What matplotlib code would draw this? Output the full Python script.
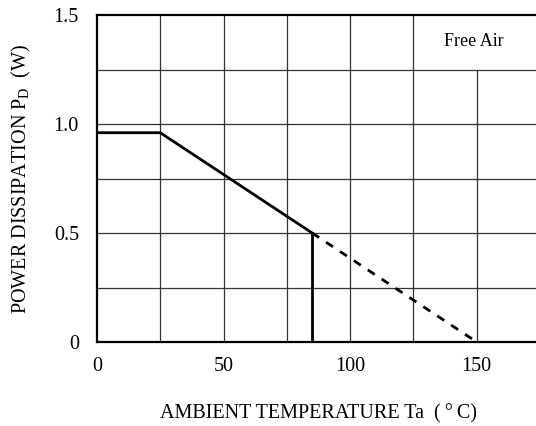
import numpy as np
import matplotlib
matplotlib.use("Agg")
import matplotlib.pyplot as plt

plt.rcParams["font.family"] = ["Liberation Serif", "DejaVu Serif"]
plt.rcParams["mathtext.default"] = "regular"

# derating curve (Ta in degC, Pd in W)
ta_solid = [0, 25, 85]
pd_solid = [0.96, 0.96, 0.5]
ta_cut = [85, 85]
pd_cut = [0.5, 0.0]
ta_dash = [85, 150]
pd_dash = [0.5, 0.0]

xticks = [0, 50, 100, 150]
yticks = [0, 0.5, 1.0, 1.5]
yticklabels = ["0", "0.5", "1.0", "1.5"]

fig = plt.figure(figsize=(5.36, 4.26), dpi=100)
ax = fig.add_axes([97 / 536, 84 / 426, 443 / 536, 327 / 426])
ax.set_xlim(0, 175)
ax.set_ylim(0, 1.5)

# grid, 25 degC x 0.25 W; the 150 line stops under the "Free Air" cell
for gx in np.arange(25, 175, 25):
    top = 1.25 / 1.5 if gx == 150 else 1.0
    ax.axvline(gx, ymax=top, color="#333333", lw=0.9, zorder=1)
for gy in np.arange(0.25, 1.5, 0.25):
    ax.axhline(gy, color="#333333", lw=0.9, zorder=1)

ax.plot(ta_solid, pd_solid, color="black", lw=2.0, zorder=3)
ax.plot(ta_cut, pd_cut, color="black", lw=2.0, zorder=3)
ax.plot(ta_dash, pd_dash, color="black", lw=2.0, ls=(0, (3, 3)), zorder=3)

ax.text(149, 1.38, "Free Air", ha="center", va="center", fontsize=13)

ax.set_xticks(xticks)
ax.set_yticks(yticks)
ax.set_yticklabels(yticklabels)
ax.tick_params(length=0, labelsize=14.5)
ax.tick_params(axis="x", pad=11)
ax.tick_params(axis="y", pad=13)
for s in ax.spines.values():
    s.set_linewidth(1.6)

ax.set_xlabel("AMBIENT TEMPERATURE Ta  (\u2009°\u2009C)", fontsize=14.5, labelpad=20)
ax.set_ylabel("POWER DISSIPATION P$_D$  (W)", fontsize=14.5, labelpad=15)

fig.savefig("out.png", dpi=100)
